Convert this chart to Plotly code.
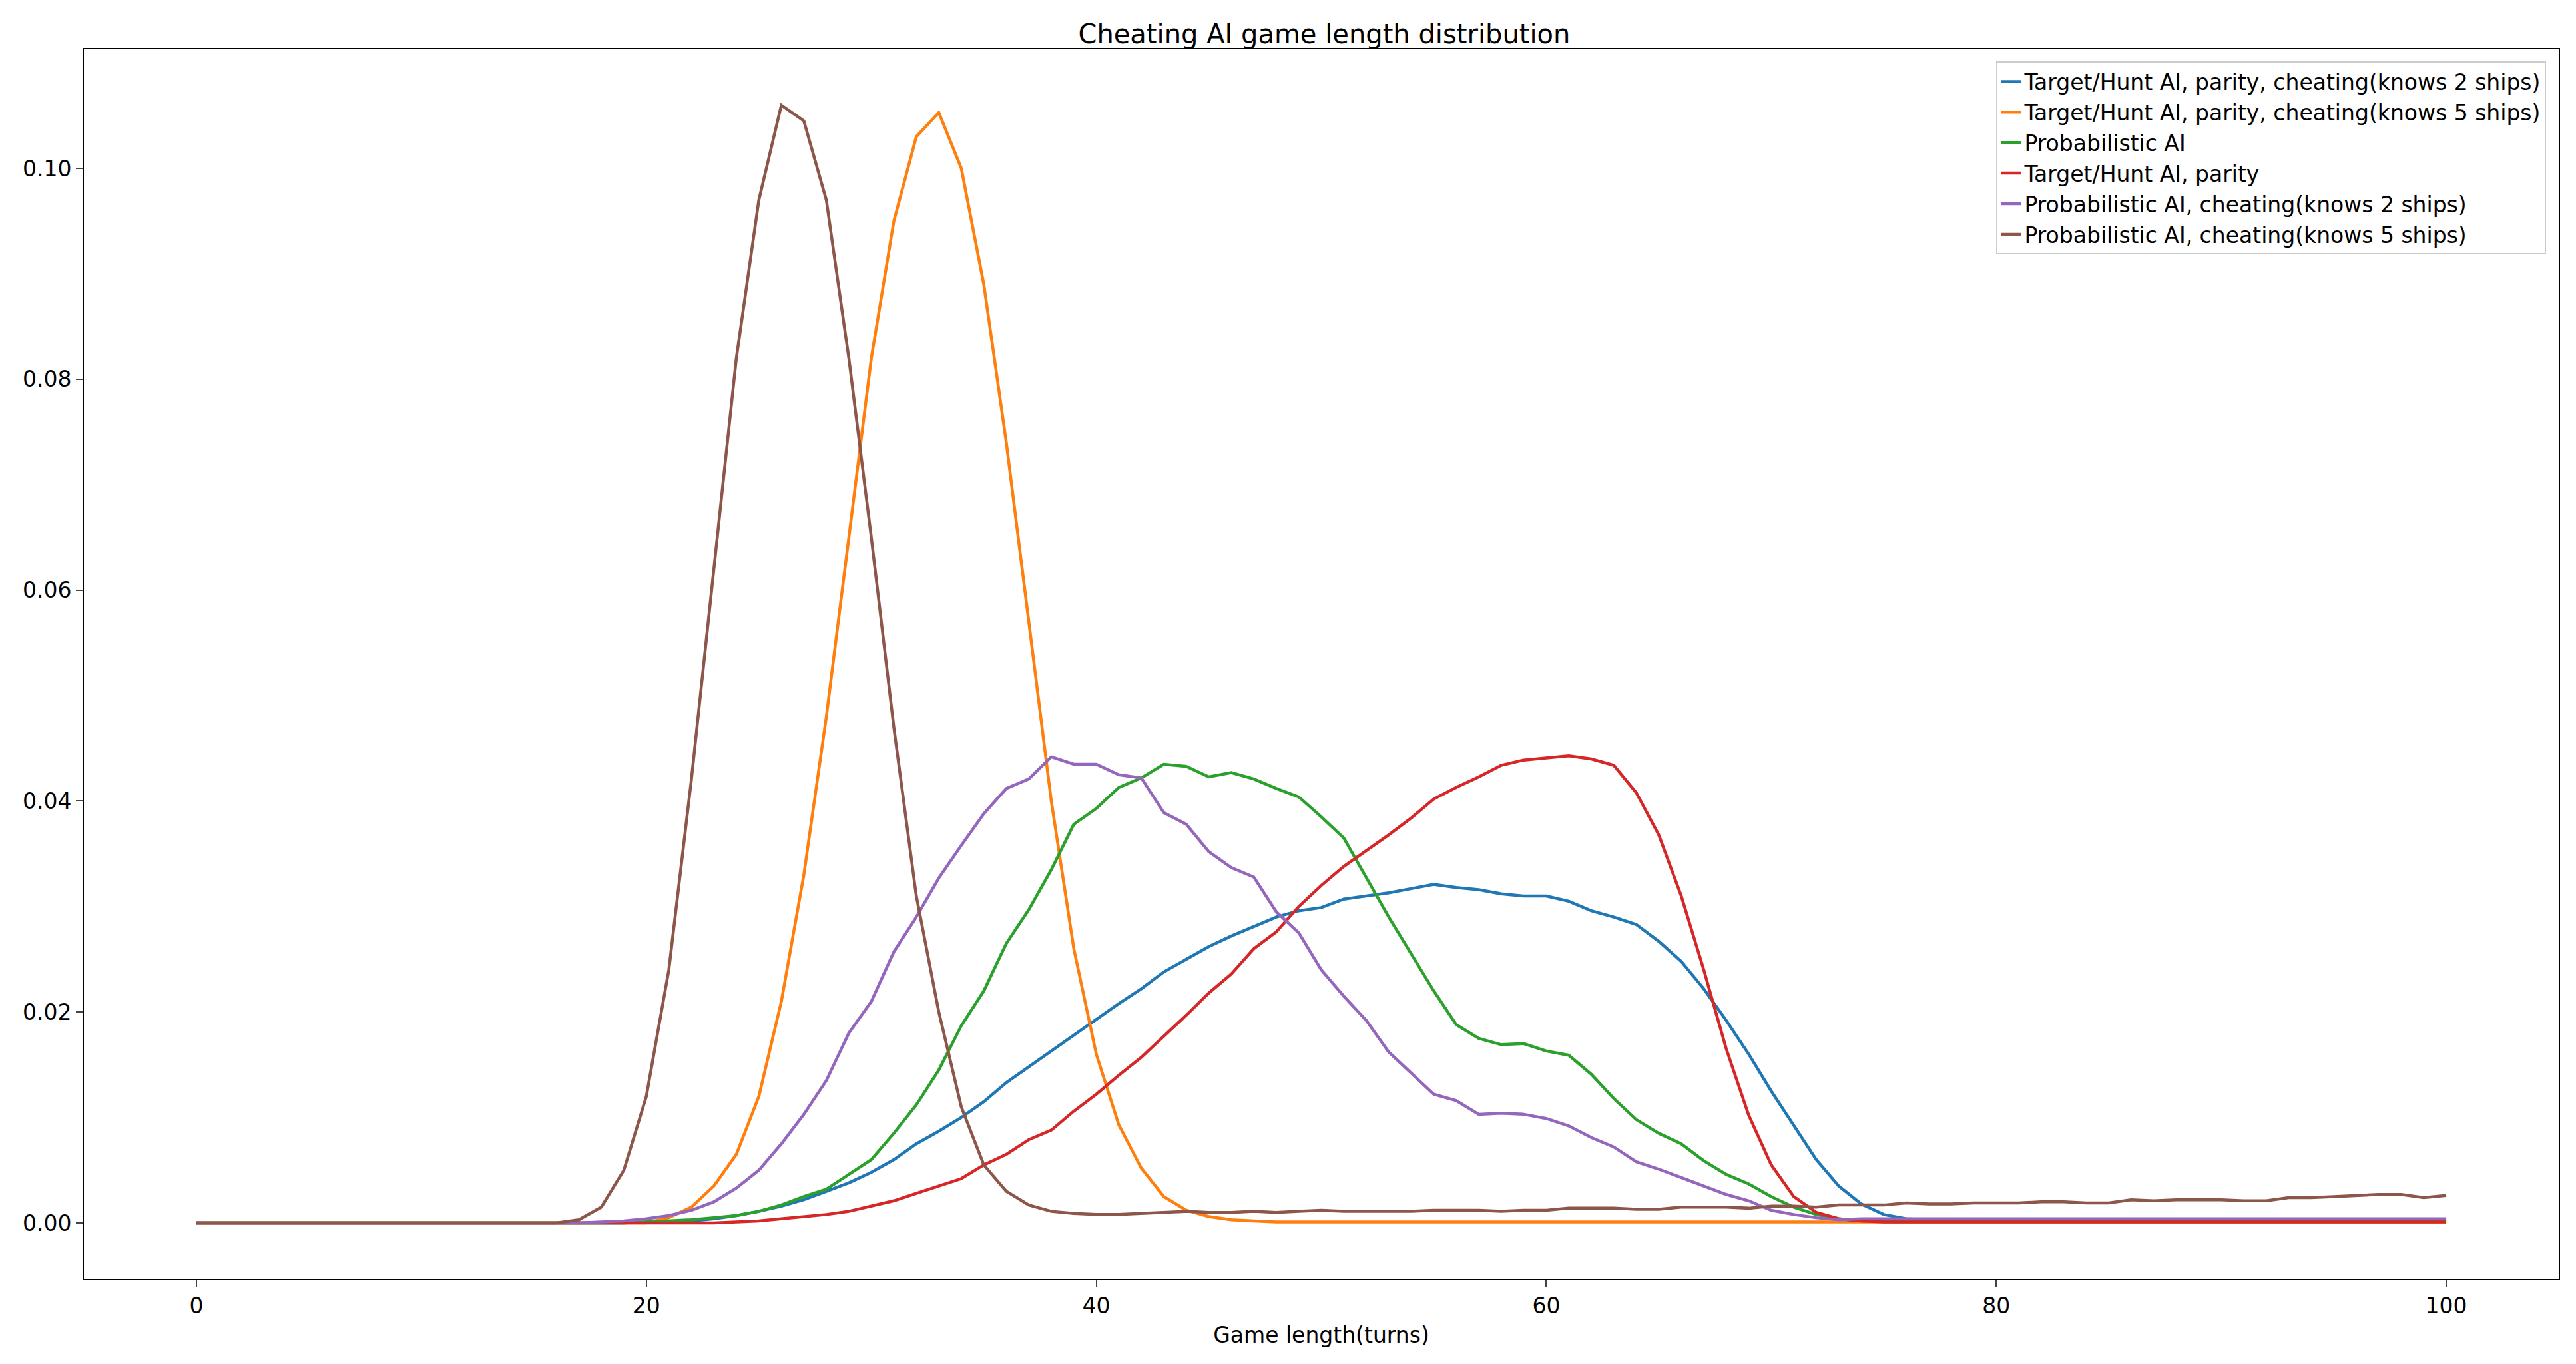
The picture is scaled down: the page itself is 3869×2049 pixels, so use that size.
import numpy as np
import plotly.graph_objects as go

turns = list(range(0, 101))

def pad(lead, vals, tail_val, n=101):
    # leading zeros, read values, then flat tail
    out = [0.0] * lead + vals
    return out + [tail_val] * (n - len(out))

th_2 = pad(20, [0.0001, 0.0001, 0.0002, 0.0004, 0.0007, 0.0011, 0.0016, 0.0022, 0.003, 0.0038,
                0.0048, 0.006, 0.0075, 0.0087, 0.01, 0.0115, 0.0133, 0.0148, 0.0163, 0.0178,
                0.0193, 0.0208, 0.0222, 0.0238, 0.025, 0.0262, 0.0272, 0.0281, 0.029, 0.0296,
                0.0299, 0.0307, 0.031, 0.0313, 0.0317, 0.0321, 0.0318, 0.0316, 0.0312, 0.031,
                0.031, 0.0305, 0.0296, 0.029, 0.0283, 0.0267, 0.0248, 0.0222, 0.0192, 0.016,
                0.0125, 0.0092, 0.006, 0.0035, 0.0018, 0.0008, 0.0004], 0.0003)
th_5 = pad(21, [0.0005, 0.0015, 0.0035, 0.0065, 0.012, 0.021, 0.033, 0.048, 0.065, 0.082,
                0.095, 0.103, 0.1053, 0.100, 0.089, 0.074, 0.057, 0.040, 0.026, 0.016,
                0.0093, 0.0052, 0.0025, 0.0012, 0.0006, 0.0003, 0.0002], 0.0001)
prob = pad(20, [0.0001, 0.0002, 0.0003, 0.0005, 0.0007, 0.0011, 0.0017, 0.0025, 0.0032, 0.0046,
                0.006, 0.0085, 0.0112, 0.0145, 0.0187, 0.022, 0.0265, 0.0297, 0.0335, 0.0378,
                0.0393, 0.0413, 0.0422, 0.0435, 0.0433, 0.0423, 0.0427, 0.0421, 0.0412, 0.0404,
                0.0385, 0.0365, 0.0328, 0.029, 0.0255, 0.022, 0.0188, 0.0175, 0.0169, 0.017,
                0.0163, 0.0159, 0.0141, 0.0118, 0.0098, 0.0085, 0.0075, 0.0059, 0.0046, 0.0037,
                0.0025, 0.0015, 0.0008, 0.0004], 0.0002)
th_parity = pad(24, [0.0001, 0.0002, 0.0004, 0.0006, 0.0008, 0.0011, 0.0016, 0.0021, 0.0028, 0.0035,
                     0.0042, 0.0055, 0.0065, 0.0079, 0.0088, 0.0106, 0.0122, 0.014, 0.0157, 0.0177,
                     0.0197, 0.0218, 0.0236, 0.026, 0.0276, 0.03, 0.032, 0.0338, 0.0353, 0.0368,
                     0.0384, 0.0402, 0.0413, 0.0423, 0.0434, 0.0439, 0.0441, 0.0443, 0.044, 0.0434,
                     0.0408, 0.0368, 0.031, 0.024, 0.0165, 0.0102, 0.0055, 0.0025, 0.001, 0.0004,
                     0.0002], 0.0001)
prob_2 = pad(18, [0.0001, 0.0002, 0.0004, 0.0007, 0.0012, 0.002, 0.0033, 0.005, 0.0075, 0.0103,
                  0.0135, 0.018, 0.021, 0.0257, 0.029, 0.0327, 0.0358, 0.0388, 0.0412, 0.0421,
                  0.0442, 0.0435, 0.0435, 0.0425, 0.0422, 0.0389, 0.0378, 0.0352, 0.0337, 0.0328,
                  0.0295, 0.0275, 0.024, 0.0215, 0.0192, 0.0162, 0.0142, 0.0122, 0.0116, 0.0103,
                  0.0104, 0.0103, 0.0099, 0.0092, 0.0081, 0.0072, 0.0058, 0.0051, 0.0043, 0.0035,
                  0.0027, 0.0021, 0.0012, 0.0008, 0.0005, 0.0003], 0.0004)
prob_5 = pad(17, [0.0003, 0.0015, 0.005, 0.012, 0.024, 0.042, 0.062, 0.082, 0.097, 0.106,
                  0.1045, 0.097, 0.082, 0.065, 0.047, 0.031, 0.020, 0.011, 0.0055, 0.003,
                  0.0017, 0.0011, 0.0009, 0.0008, 0.0008, 0.0009, 0.001, 0.0011, 0.001, 0.001,
                  0.0011, 0.001, 0.0011, 0.0012, 0.0011, 0.0011, 0.0011, 0.0011, 0.0012, 0.0012,
                  0.0012, 0.0011, 0.0012, 0.0012, 0.0014, 0.0014, 0.0014, 0.0013, 0.0013, 0.0015,
                  0.0015, 0.0015, 0.0014, 0.0016, 0.0016, 0.0015, 0.0017, 0.0017, 0.0017, 0.0019,
                  0.0018, 0.0018, 0.0019, 0.0019, 0.0019, 0.0020, 0.0020, 0.0019, 0.0019, 0.0022,
                  0.0021, 0.0022, 0.0022, 0.0022, 0.0021, 0.0021, 0.0024, 0.0024, 0.0025, 0.0026,
                  0.0027, 0.0027, 0.0024, 0.0026, 0.0024, 0.0029], 0.0029)

names = ["Target/Hunt AI, parity, cheating(knows 2 ships)",
         "Target/Hunt AI, parity, cheating(knows 5 ships)",
         "Probabilistic AI",
         "Target/Hunt AI, parity",
         "Probabilistic AI, cheating(knows 2 ships)",
         "Probabilistic AI, cheating(knows 5 ships)"]
series = [th_2, th_5, prob, th_parity, prob_2, prob_5]
colors = ["#1f77b4", "#ff7f0e", "#2ca02c", "#d62728", "#9467bd", "#8c564b"]

fig = go.Figure()
for name, ys, c in zip(names, series, colors):
    fig.add_trace(go.Scatter(x=turns, y=ys, mode='lines', name=name,
                             line=dict(color=c, width=4.5)))

font = dict(size=33, family='DejaVu Sans', color='black')
axis_style = dict(showgrid=False, zeroline=False, showline=True, mirror=True,
                  linecolor='black', linewidth=2, ticks='outside', ticklen=10,
                  tickwidth=2, tickfont=font)

fig.update_layout(
    width=3869, height=2049,
    paper_bgcolor='white', plot_bgcolor='white',
    margin=dict(l=118, r=34, t=66, b=136),
    title=dict(text='Cheating AI game length distribution', x=0.512, xanchor='center',
               y=0.979, yanchor='middle', font=dict(size=40, family='DejaVu Sans', color='black')),
    xaxis=dict(range=[-5, 105], tickvals=[0, 20, 40, 60, 80, 100],
               title=dict(text='Game length(turns)', font=font, standoff=14), **axis_style),
    yaxis=dict(range=[-0.0053, 0.1113], tickvals=[0, 0.02, 0.04, 0.06, 0.08, 0.1],
               ticktext=['0.00', '0.02', '0.04', '0.06', '0.08', '0.10'], **axis_style),
    legend=dict(x=0.995, y=0.99, xanchor='right', yanchor='top',
                bgcolor='rgba(255,255,255,0.8)', bordercolor='#cccccc', borderwidth=2,
                font=font),
)

fig.write_html("out.html")
